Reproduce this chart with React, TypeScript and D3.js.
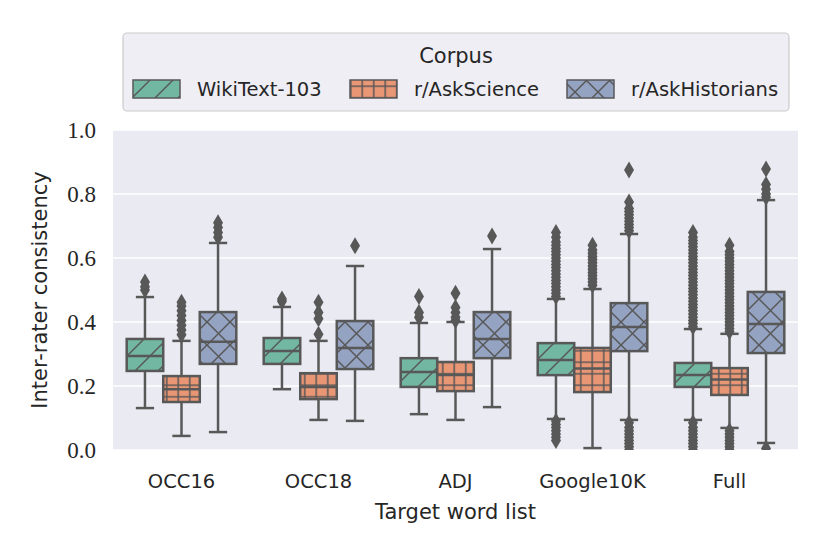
import React from 'react';
import * as d3 from 'd3';

const categories = ['OCC16', 'OCC18', 'ADJ', 'Google10K', 'Full'];
const corpora = ['WikiText-103', 'r/AskScience', 'r/AskHistorians'];
const yTicks = [0, 0.2, 0.4, 0.6, 0.8, 1.0];

// box stats per corpus, one entry per category
const wikiLow = [0.131, 0.19, 0.112, 0.097, 0.094];
const wikiQ1 = [0.247, 0.269, 0.197, 0.234, 0.197];
const wikiMed = [0.294, 0.309, 0.244, 0.281, 0.234];
const wikiQ3 = [0.347, 0.35, 0.287, 0.334, 0.272];
const wikiHigh = [0.478, 0.447, 0.397, 0.472, 0.378];
const wikiOut = [
  [0.5, 0.51, 0.525],
  [0.465, 0.472],
  [0.415, 0.43, 0.48],
  [0.03, 0.04, 0.05, 0.06, 0.07, 0.08, 0.09,
    0.48, 0.49, 0.5, 0.51, 0.52, 0.53, 0.54, 0.55, 0.56, 0.57, 0.58, 0.59, 0.6, 0.61, 0.62, 0.63, 0.64, 0.65, 0.665, 0.68],
  [0, 0.01, 0.02, 0.03, 0.04, 0.05, 0.06, 0.07, 0.085,
    0.385, 0.395, 0.405, 0.415, 0.425, 0.435, 0.445, 0.455, 0.465, 0.475, 0.485, 0.495, 0.505, 0.515, 0.525, 0.535,
    0.545, 0.555, 0.565, 0.575, 0.585, 0.595, 0.605, 0.615, 0.625, 0.635, 0.645, 0.655, 0.665, 0.68],
];

const sciLow = [0.044, 0.094, 0.094, 0.006, 0.069];
const sciQ1 = [0.15, 0.159, 0.184, 0.181, 0.172];
const sciMed = [0.19, 0.197, 0.234, 0.255, 0.22];
const sciQ3 = [0.231, 0.24, 0.275, 0.319, 0.256];
const sciHigh = [0.341, 0.341, 0.4, 0.503, 0.363];
const sciOut = [
  [0.36, 0.375, 0.39, 0.405, 0.42, 0.435, 0.45, 0.462],
  [0.362, 0.41, 0.43, 0.462],
  [0.405, 0.415, 0.43, 0.445, 0.49],
  [0.515, 0.525, 0.535, 0.545, 0.555, 0.565, 0.575, 0.585, 0.595, 0.605, 0.615, 0.625, 0.64],
  [0, 0.01, 0.02, 0.03, 0.04, 0.05, 0.06,
    0.37, 0.38, 0.39, 0.4, 0.41, 0.42, 0.43, 0.44, 0.45, 0.46, 0.47, 0.48, 0.49, 0.5, 0.51, 0.52, 0.53, 0.54,
    0.55, 0.56, 0.57, 0.58, 0.59, 0.6, 0.61, 0.62, 0.64],
];

const histLow = [0.056, 0.091, 0.134, 0.094, 0.022];
const histQ1 = [0.269, 0.253, 0.287, 0.309, 0.303];
const histMed = [0.338, 0.319, 0.347, 0.384, 0.394];
const histQ3 = [0.431, 0.403, 0.431, 0.459, 0.494];
const histHigh = [0.647, 0.575, 0.628, 0.675, 0.781];
const histOut = [
  [0.665, 0.68, 0.695, 0.71],
  [0.638],
  [0.669],
  [0, 0.01, 0.02, 0.03, 0.04, 0.05, 0.06, 0.07, 0.085,
    0.685, 0.695, 0.705, 0.715, 0.725, 0.735, 0.745, 0.755, 0.775, 0.875],
  [0.005, 0.79, 0.8, 0.815, 0.83, 0.878],
];

const stats = [
  { low: wikiLow, q1: wikiQ1, med: wikiMed, q3: wikiQ3, high: wikiHigh, out: wikiOut },
  { low: sciLow, q1: sciQ1, med: sciMed, q3: sciQ3, high: sciHigh, out: sciOut },
  { low: histLow, q1: histQ1, med: histMed, q3: histQ3, high: histHigh, out: histOut },
];

const fills = ['#71b7a1', '#e99675', '#95a3c3'];
const gray = '#585858';
const sans = "'DejaVu Sans', sans-serif";
const serif = "'Liberation Serif', 'Times New Roman', 'DejaVu Serif', 'Noto Serif', Times, serif";

const W = 830, H = 554;
const left = 113, right = 798, top = 130, bottom = 450;

export default function App() {
  const x = d3.scaleBand().domain(categories).range([left, right]);
  const y = d3.scaleLinear().domain([0, 1]).range([bottom, top]);
  const bw = x.bandwidth() * 0.8 / 3;
  const diamond = 'M0,-8.5L5,0L0,8.5L-5,0Z';

  return (
    <svg width={W} height={H} style={{ position: 'absolute', left: 0, top: 0 }}>
      <defs>
        <pattern id="h0" patternUnits="userSpaceOnUse" width={23} height={23}>
          <rect width={23} height={23} fill={fills[0]} />
          <path d="M0,23L23,0M-3,3L3,-3M20,26L26,20" stroke={gray} strokeWidth={1.5} />
        </pattern>
        <pattern id="h1" patternUnits="userSpaceOnUse" width={11.5} height={11.5}>
          <rect width={11.5} height={11.5} fill={fills[1]} />
          <path d="M5.75,0V11.5M0,5.75H11.5" stroke={gray} strokeWidth={1.5} />
        </pattern>
        <pattern id="h2" patternUnits="userSpaceOnUse" width={23} height={23}>
          <rect width={23} height={23} fill={fills[2]} />
          <path d="M0,0L23,23M0,23L23,0M-3,3L3,-3M20,26L26,20M-3,20L3,26M20,-3L26,3" stroke={gray} strokeWidth={1.5} />
        </pattern>
        <clipPath id="plot">
          <rect x={left} y={top} width={right - left} height={bottom - top} />
        </clipPath>
      </defs>
      <rect width={W} height={H} fill="#ffffff" />
      <rect x={left} y={top} width={right - left} height={bottom - top} fill="#eaeaf2" />
      {yTicks.map(t => (
        <g key={t}>
          <line x1={left} x2={right} y1={y(t)} y2={y(t)} stroke="#ffffff" strokeWidth={1.6} />
          <text x={96} y={y(t)} dy="0.36em" textAnchor="end" fontFamily={serif} fontSize={23} fill="#262626">
            {t.toFixed(1)}
          </text>
        </g>
      ))}
      <g clipPath="url(#plot)">
        {categories.map((c, ci) =>
          stats.map((s, si) => {
            const x0 = (x(c) as number) + x.bandwidth() * 0.1 + si * bw;
            const cx = x0 + bw / 2;
            const cap = bw / 4;
            return (
              <g key={c + si}>
                <rect x={x0} y={y(s.q3[ci])} width={bw} height={y(s.q1[ci]) - y(s.q3[ci])}
                  fill={`url(#h${si})`} stroke={gray} strokeWidth={2.5} />
                <line x1={x0} x2={x0 + bw} y1={y(s.med[ci])} y2={y(s.med[ci])} stroke={gray} strokeWidth={2.5} />
                <line x1={cx} x2={cx} y1={y(s.q3[ci])} y2={y(s.high[ci])} stroke={gray} strokeWidth={2.5} />
                <line x1={cx} x2={cx} y1={y(s.q1[ci])} y2={y(s.low[ci])} stroke={gray} strokeWidth={2.5} />
                <line x1={cx - cap} x2={cx + cap} y1={y(s.high[ci])} y2={y(s.high[ci])} stroke={gray} strokeWidth={2.5} />
                <line x1={cx - cap} x2={cx + cap} y1={y(s.low[ci])} y2={y(s.low[ci])} stroke={gray} strokeWidth={2.5} />
                {s.out[ci].map((v, k) => (
                  <path key={k} d={diamond} transform={`translate(${cx},${y(v)})`} fill={gray} />
                ))}
              </g>
            );
          })
        )}
      </g>
      {categories.map(c => (
        <text key={c} x={(x(c) as number) + x.bandwidth() / 2} y={488} textAnchor="middle"
          fontFamily={sans} fontSize={19.5} fill="#262626">{c}</text>
      ))}
      <text x={(left + right) / 2} y={519} textAnchor="middle" fontFamily={sans} fontSize={21} fill="#262626">
        Target word list
      </text>
      <text transform={`translate(40,${(top + bottom) / 2}) rotate(-90)`} textAnchor="middle" dy="0.35em"
        fontFamily={sans} fontSize={21} fill="#262626">Inter-rater consistency</text>

      <rect x={123} y={33} width={666} height={78} rx={4} fill="#eeeef4" stroke="#cccccc" strokeWidth={1.2} />
      <text x={456} y={63} textAnchor="middle" fontFamily={sans} fontSize={21} fill="#262626">Corpus</text>
      {corpora.map((name, i) => {
        const px = [133, 350, 567][i];
        return (
          <g key={name}>
            <rect x={px} y={80} width={47} height={18} fill={`url(#h${i})`} stroke={gray} strokeWidth={1.5} />
            <text x={px + 64} y={96} fontFamily={sans} fontSize={19.5} fill="#262626">{name}</text>
          </g>
        );
      })}
    </svg>
  );
}
